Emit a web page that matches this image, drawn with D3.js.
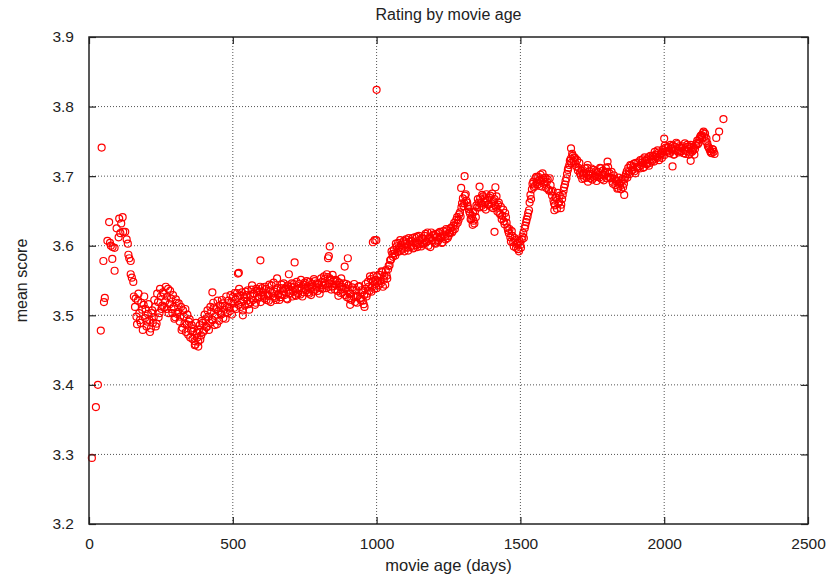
<!DOCTYPE html>
<html>
<head>
<meta charset="utf-8">
<script src="https://cdn.jsdelivr.net/npm/d3@7/dist/d3.min.js"></script>
<style>
html,body{margin:0;padding:0;background:#fff;}
text{font-family:"Liberation Sans",Arial,Helvetica,sans-serif;fill:#222;}
</style>
</head>
<body>
<svg id="chart" width="828" height="575"></svg>
<script>
// ---- data ----
const title = "Rating by movie age";
const xLabel = "movie age (days)";
const yLabel = "mean score";
const xTicks = [0, 500, 1000, 1500, 2000, 2500];
const yTicks = [3.2, 3.3, 3.4, 3.5, 3.6, 3.7, 3.8, 3.9];

// early ages and stray points: [age, score]
const earlyPoints = [
  [10,3.295],[24,3.368],[31,3.400],[41,3.478],[44,3.741],[50,3.578],[52,3.519],[55,3.525],
  [64,3.607],[70,3.634],[73,3.604],[76,3.600],[81,3.581],[82,3.598],[89,3.564],[89,3.597],
  [96,3.625],[103,3.612],[105,3.639],[109,3.618],[112,3.632],[117,3.641],[119,3.620],[126,3.620],
  [131,3.609],[135,3.603],[137,3.587],[140,3.582],[145,3.578],[145,3.559],[149,3.554],[154,3.548],[156,3.527]
];
const strayPoints = [
  [368,3.457],[380,3.455],[429,3.533],[518,3.560],[521,3.561],[535,3.500],[596,3.579],[654,3.553],
  [695,3.559],[715,3.576],[831,3.582],[834,3.585],[837,3.599],[889,3.570],[900,3.582],[908,3.515],
  [958,3.512],[987,3.605],[993,3.608],[999,3.608],[1000,3.824],[1294,3.683],[1306,3.700],[1334,3.630],
  [1358,3.685],[1413,3.684],[1410,3.620],[1618,3.651],[1676,3.740],[1734,3.716],[1803,3.721],[1861,3.673],
  [2000,3.754],[2029,3.714],[2092,3.722],[2181,3.755],[2191,3.764],[2206,3.782]
];
// main band, first set: ages and mean scores
const bandAges = [
  160,165,170,175,180,185,190,195,200,205, 210,215,220,225,230,235,240,245,250,255,
  260,265,270,275,280,285,290,295,300,305, 310,315,320,325,330,335,340,345,350,355,
  360,365,370,375,380,385,390,395,400,405, 410,415,420,425,430,435,440,445,450,455,
  460,465,470,475,480,485,490,495,500,505, 510,515,520,525,530,535,540,545,550,555,
  560,565,570,575,580,585,590,595,600,605, 610,615,620,625,630,635,640,645,650,655,
  660,665,670,675,680,685,690,695,700,705, 710,715,720,725,730,735,740,745,750,755,
  760,765,770,775,780,785,790,795,800,805, 810,815,820,825,830,835,840,845,850,855,
  860,865,870,875,880,885,890,895,900,905, 910,915,920,925,930,935,940,945,950,955,
  960,965,970,975,980,985,990,995,1000,1005, 1010,1015,1020,1025,1030,1035,1040,1045,1050,1055,
  1060,1065,1070,1075,1080,1085,1090,1095,1100,1105, 1110,1115,1120,1125,1130,1135,1140,1145,1150,1155,
  1160,1165,1170,1175,1180,1185,1190,1195,1200,1205, 1210,1215,1220,1225,1230,1235,1240,1245,1250,1255,
  1260,1265,1270,1275,1280,1285,1290,1295,1300,1305, 1310,1315,1320,1325,1330,1335,1340,1345,1350,1355,
  1360,1365,1370,1375,1380,1385,1390,1395,1400,1405, 1410,1415,1420,1425,1430,1435,1440,1445,1450,1455,
  1460,1465,1470,1475,1480,1485,1490,1495,1500,1505, 1510,1515,1520,1525,1530,1535,1540,1545,1550,1555,
  1560,1565,1570,1575,1580,1585,1590,1595,1600,1605, 1610,1615,1620,1625,1630,1635,1640,1645,1650,1655,
  1660,1665,1670,1675,1680,1685,1690,1695,1700,1705, 1710,1715,1720,1725,1730,1735,1740,1745,1750,1755,
  1760,1765,1770,1775,1780,1785,1790,1795,1800,1805, 1810,1815,1820,1825,1830,1835,1840,1845,1850,1855,
  1860,1865,1870,1875,1880,1885,1890,1895,1900,1905, 1910,1915,1920,1925,1930,1935,1940,1945,1950,1955,
  1960,1965,1970,1975,1980,1985,1990,1995,2000,2005, 2010,2015,2020,2025,2030,2035,2040,2045,2050,2055,
  2060,2065,2070,2075,2080,2085,2090,2095,2100,2105, 2110,2115,2120,2125,2130,2135,2140,2145,2150,2155,
  2160,2165,2170,2175
];
const bandScores = [
  3.512,3.498,3.521,3.503,3.489,3.508,3.515,3.496,3.484,3.502, 3.493,3.481,3.507,3.497,3.512,3.488,3.519,3.503,3.527,3.514,
  3.531,3.520,3.509,3.538,3.516,3.524,3.503,3.512,3.497,3.518, 3.505,3.491,3.512,3.482,3.498,3.509,3.487,3.472,3.494,3.478,
  3.466,3.481,3.458,3.475,3.462,3.486,3.471,3.489,3.478,3.494, 3.483,3.498,3.489,3.505,3.493,3.511,3.499,3.487,3.506,3.514,
  3.501,3.517,3.508,3.495,3.512,3.521,3.506,3.518,3.526,3.511, 3.523,3.532,3.515,3.528,3.519,3.507,3.526,3.534,3.521,3.516,
  3.529,3.537,3.522,3.531,3.518,3.535,3.526,3.541,3.528,3.533, 3.524,3.538,3.530,3.521,3.536,3.543,3.527,3.534,3.522,3.539,
  3.531,3.526,3.544,3.535,3.529,3.540,3.523,3.537,3.532,3.546, 3.534,3.541,3.528,3.537,3.545,3.530,3.539,3.533,3.547,3.536,
  3.542,3.531,3.538,3.545,3.534,3.549,3.540,3.535,3.546,3.539, 3.548,3.543,3.552,3.539,3.555,3.546,3.551,3.541,3.549,3.537,
  3.544,3.535,3.547,3.532,3.541,3.538,3.529,3.545,3.536,3.524, 3.531,3.540,3.527,3.519,3.536,3.528,3.542,3.522,3.533,3.516,
  3.538,3.527,3.548,3.535,3.552,3.541,3.557,3.545,3.539,3.550, 3.558,3.546,3.562,3.551,3.544,3.557,3.566,3.572,3.580,3.588,
  3.594,3.586,3.599,3.604,3.592,3.601,3.596,3.607,3.598,3.603, 3.593,3.606,3.600,3.611,3.597,3.604,3.613,3.602,3.608,3.599,
  3.610,3.604,3.617,3.606,3.600,3.612,3.619,3.607,3.615,3.603, 3.613,3.608,3.620,3.611,3.605,3.616,3.609,3.622,3.614,3.618,
  3.626,3.621,3.633,3.629,3.641,3.637,3.648,3.655,3.668,3.661, 3.674,3.662,3.653,3.646,3.638,3.648,3.632,3.641,3.655,3.662,
  3.668,3.657,3.671,3.663,3.652,3.666,3.659,3.672,3.661,3.654, 3.667,3.656,3.649,3.662,3.645,3.638,3.652,3.631,3.641,3.626,
  3.618,3.612,3.621,3.605,3.611,3.597,3.604,3.592,3.601,3.609, 3.618,3.625,3.634,3.642,3.651,3.673,3.681,3.692,3.686,3.699,
  3.688,3.694,3.702,3.685,3.697,3.691,3.683,3.695,3.679,3.687, 3.672,3.665,3.658,3.669,3.676,3.663,3.654,3.667,3.679,3.688,
  3.697,3.709,3.716,3.725,3.732,3.721,3.726,3.714,3.708,3.719, 3.701,3.696,3.705,3.711,3.698,3.692,3.707,3.703,3.695,3.709,
  3.700,3.693,3.706,3.698,3.711,3.702,3.694,3.705,3.697,3.713, 3.704,3.697,3.692,3.701,3.687,3.694,3.683,3.690,3.681,3.696,
  3.689,3.699,3.707,3.712,3.703,3.715,3.709,3.718,3.704,3.713, 3.720,3.711,3.716,3.724,3.713,3.722,3.717,3.727,3.719,3.725,
  3.729,3.721,3.731,3.726,3.734,3.728,3.733,3.738,3.730,3.741, 3.735,3.742,3.733,3.739,3.744,3.731,3.737,3.746,3.734,3.741,
  3.736,3.743,3.738,3.732,3.745,3.739,3.734,3.742,3.737,3.731, 3.744,3.751,3.748,3.756,3.759,3.762,3.757,3.750,3.747,3.741,
  3.736,3.733,3.738,3.732
];
// main band, second set (in-between ages)
const bandAges2 = [
  162,167,172,177,182,187,192,197,202,207, 212,217,222,227,232,237,242,247,252,257,
  262,267,272,277,282,287,292,297,302,307, 312,317,322,327,332,337,342,347,352,357,
  362,367,372,377,382,387,392,397,402,407, 412,417,422,427,432,437,442,447,452,457,
  462,467,472,477,482,487,492,497,502,507, 512,517,522,527,532,537,542,547,552,557,
  562,567,572,577,582,587,592,597,602,607, 612,617,622,627,632,637,642,647,652,657,
  662,667,672,677,682,687,692,697,702,707, 712,717,722,727,732,737,742,747,752,757,
  762,767,772,777,782,787,792,797,802,807, 812,817,822,827,832,837,842,847,852,857,
  862,867,872,877,882,887,892,897,902,907, 912,917,922,927,932,937,942,947,952,957,
  962,967,972,977,982,987,992,997,1002,1007, 1012,1017,1022,1027,1032,1037,1042,1047,1052,1057,
  1062,1067,1072,1077,1082,1087,1092,1097,1102,1107, 1112,1117,1122,1127,1132,1137,1142,1147,1152,1157,
  1162,1167,1172,1177,1182,1187,1192,1197,1202,1207, 1212,1217,1222,1227,1232,1237,1242,1247,1252,1257,
  1262,1267,1272,1277,1282,1287,1292,1297,1302,1307, 1312,1317,1322,1327,1332,1337,1342,1347,1352,1357,
  1362,1367,1372,1377,1382,1387,1392,1397,1402,1407, 1412,1417,1422,1427,1432,1437,1442,1447,1452,1457,
  1462,1467,1472,1477,1482,1487,1492,1497,1502,1507, 1512,1517,1522,1527,1532,1537,1542,1547,1552,1557,
  1562,1567,1572,1577,1582,1587,1592,1597,1602,1607, 1612,1617,1622,1627,1632,1637,1642,1647,1652,1657,
  1662,1667,1672,1677,1682,1687,1692,1697,1702,1707, 1712,1717,1722,1727,1732,1737,1742,1747,1752,1757,
  1762,1767,1772,1777,1782,1787,1792,1797,1802,1807, 1812,1817,1822,1827,1832,1837,1842,1847,1852,1857,
  1862,1867,1872,1877,1882,1887,1892,1897,1902,1907, 1912,1917,1922,1927,1932,1937,1942,1947,1952,1957,
  1962,1967,1972,1977,1982,1987,1992,1997,2002,2007, 2012,2017,2022,2027,2032,2037,2042,2047,2052,2057,
  2062,2067,2072,2077,2082,2087,2092,2097,2102,2107, 2112,2117,2122,2127,2132,2137,2142,2147,2152,2157,
  2162,2167,2172
];
const bandScores2 = [
  3.524,3.487,3.531,3.493,3.518,3.479,3.527,3.509,3.491,3.516, 3.476,3.503,3.489,3.522,3.484,3.531,3.497,3.538,3.509,3.533,
  3.512,3.541,3.527,3.503,3.535,3.509,3.529,3.495,3.523,3.502, 3.517,3.498,3.479,3.507,3.488,3.476,3.501,3.491,3.468,3.486,
  3.477,3.463,3.489,3.468,3.479,3.465,3.492,3.476,3.501,3.483, 3.507,3.479,3.512,3.494,3.518,3.486,3.509,3.521,3.492,3.503,
  3.522,3.496,3.514,3.527,3.503,3.511,3.529,3.501,3.517,3.532, 3.509,3.527,3.538,3.512,3.533,3.521,3.514,3.529,3.536,3.508,
  3.519,3.543,3.531,3.515,3.538,3.524,3.534,3.519,3.539,3.527, 3.541,3.522,3.528,3.544,3.519,3.532,3.547,3.525,3.537,3.529,
  3.522,3.539,3.529,3.546,3.538,3.524,3.543,3.531,3.541,3.527, 3.545,3.529,3.548,3.531,3.539,3.551,3.527,3.544,3.538,3.549,
  3.533,3.548,3.529,3.541,3.552,3.537,3.546,3.544,3.531,3.553, 3.538,3.556,3.544,3.559,3.541,3.553,3.537,3.558,3.542,3.551,
  3.549,3.528,3.541,3.553,3.533,3.546,3.539,3.526,3.543,3.531, 3.522,3.537,3.545,3.526,3.518,3.541,3.524,3.536,3.521,3.529,
  3.545,3.531,3.541,3.556,3.534,3.549,3.538,3.551,3.556,3.543, 3.549,3.563,3.541,3.557,3.565,3.553,3.571,3.579,3.592,3.584,
  3.589,3.603,3.591,3.597,3.608,3.594,3.605,3.592,3.609,3.597, 3.611,3.598,3.607,3.596,3.612,3.601,3.598,3.614,3.603,3.611,
  3.602,3.614,3.605,3.619,3.611,3.598,3.608,3.616,3.604,3.617, 3.606,3.618,3.612,3.604,3.621,3.613,3.624,3.611,3.619,3.625,
  3.619,3.629,3.624,3.637,3.633,3.645,3.642,3.661,3.657,3.672, 3.665,3.657,3.649,3.638,3.643,3.636,3.649,3.658,3.667,3.655,
  3.661,3.673,3.655,3.668,3.674,3.659,3.669,3.656,3.675,3.664, 3.658,3.671,3.659,3.647,3.656,3.643,3.635,3.647,3.633,3.622,
  3.624,3.606,3.614,3.599,3.608,3.602,3.595,3.607,3.597,3.613, 3.611,3.629,3.638,3.647,3.662,3.667,3.689,3.684,3.697,3.691,
  3.699,3.686,3.693,3.704,3.689,3.698,3.692,3.681,3.697,3.678, 3.679,3.661,3.669,3.653,3.661,3.672,3.659,3.673,3.684,3.693,
  3.703,3.712,3.722,3.719,3.729,3.727,3.718,3.723,3.712,3.704, 3.708,3.702,3.697,3.704,3.712,3.701,3.697,3.711,3.704,3.698,
  3.707,3.699,3.701,3.712,3.696,3.708,3.701,3.712,3.706,3.699, 3.698,3.706,3.689,3.696,3.693,3.682,3.698,3.686,3.693,3.684,
  3.695,3.703,3.698,3.706,3.716,3.708,3.713,3.707,3.719,3.711, 3.714,3.723,3.719,3.712,3.727,3.718,3.724,3.715,3.729,3.721,
  3.724,3.735,3.728,3.737,3.723,3.731,3.726,3.735,3.744,3.736, 3.741,3.733,3.745,3.737,3.731,3.742,3.748,3.736,3.743,3.735,
  3.741,3.733,3.747,3.736,3.742,3.731,3.745,3.735,3.741,3.739, 3.747,3.746,3.753,3.758,3.755,3.764,3.761,3.754,3.743,3.739,
  3.734,3.739,3.735
];

// ---- chart ----
const svg = d3.select("#chart");
const margin = {left: 89, right: 20, top: 37, bottom: 51};
const W = 828, H = 575;
const x = d3.scaleLinear().domain([0, 2500]).range([margin.left, W - margin.right]);
const y = d3.scaleLinear().domain([3.2, 3.9]).range([H - margin.bottom, margin.top]);

const points = earlyPoints
  .concat(bandAges.map((a, i) => [a, bandScores[i]]))
  .concat(bandAges2.map((a, i) => [a, bandScores2[i]]))
  .concat(strayPoints);

// grid
const grid = svg.append("g");
grid.selectAll("line.gx").data(xTicks.slice(1, -1)).join("line")
  .attr("x1", d => x(d)).attr("x2", d => x(d))
  .attr("y1", y(3.2)).attr("y2", y(3.9))
  .attr("stroke", "#555").attr("stroke-width", 1).attr("stroke-dasharray", "1,2");
grid.selectAll("line.gy").data(yTicks.slice(1, -1)).join("line")
  .attr("x1", x(0)).attr("x2", x(2500))
  .attr("y1", d => y(d)).attr("y2", d => y(d))
  .attr("stroke", "#555").attr("stroke-width", 1).attr("stroke-dasharray", "1,2");

// points
svg.append("g").selectAll("circle").data(points).join("circle")
  .attr("cx", d => x(d[0])).attr("cy", d => y(d[1])).attr("r", 3.5)
  .attr("fill", "none").attr("stroke", "#ff0000").attr("stroke-width", 1.2);

// axes (ticks inward, mirrored)
const tickLen = 7;
const axB = svg.append("g").attr("transform", `translate(0,${y(3.2)})`)
  .call(d3.axisBottom(x).tickValues(xTicks).tickSize(-tickLen).tickPadding(14).tickFormat(d3.format("d")));
const axT = svg.append("g").attr("transform", `translate(0,${y(3.9)})`)
  .call(d3.axisTop(x).tickValues(xTicks).tickSize(-tickLen).tickFormat(""));
const axL = svg.append("g").attr("transform", `translate(${x(0)},0)`)
  .call(d3.axisLeft(y).tickValues(yTicks).tickSize(-tickLen).tickPadding(15).tickFormat(d3.format(".1f")));
const axR = svg.append("g").attr("transform", `translate(${x(2500)},0)`)
  .call(d3.axisRight(y).tickValues(yTicks).tickSize(-tickLen).tickFormat(""));
[axB, axT, axL, axR].forEach(g => {
  g.select(".domain").remove();
  g.selectAll(".tick line").attr("stroke", "#222").attr("stroke-width", 1.2);
  g.selectAll(".tick text").style("font-size", "15.5px").attr("fill", "#222")
    .style("font-family", "'Liberation Sans',Arial,sans-serif");
});

// frame
svg.append("rect").attr("x", x(0)).attr("y", y(3.9))
  .attr("width", x(2500) - x(0)).attr("height", y(3.2) - y(3.9))
  .attr("fill", "none").attr("stroke", "#222").attr("stroke-width", 1.5);

// labels
svg.append("text").attr("x", (x(0) + x(2500)) / 2).attr("y", 20)
  .attr("text-anchor", "middle").style("font-size", "16px").text(title);
svg.append("text").attr("x", (x(0) + x(2500)) / 2).attr("y", 571)
  .attr("text-anchor", "middle").style("font-size", "16.5px").text(xLabel);
svg.append("text").attr("transform", `translate(27,${(y(3.2) + y(3.9)) / 2}) rotate(-90)`)
  .attr("text-anchor", "middle").style("font-size", "16px").text(yLabel);
</script>
</body>
</html>
